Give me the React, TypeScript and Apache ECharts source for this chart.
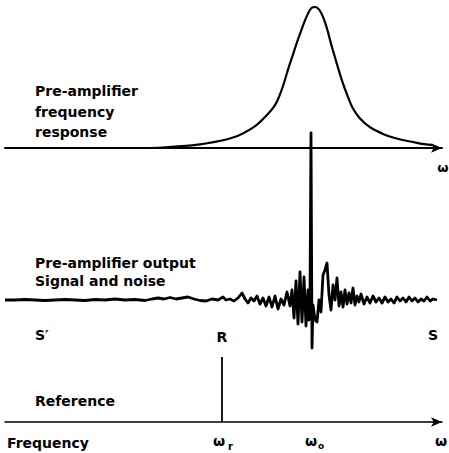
import React, { useEffect, useRef } from "react";
import * as echarts from "echarts";

// Frequency axis in arbitrary units (0 .. 437), omega_o ~ 306, omega_r ~ 217
const FREQ_MAX = 437;

// Pre-amplifier frequency response (normalised 0..1)
const responseFreq = [0, 145, 170, 195, 228, 248, 260, 272, 285, 295, 305, 310, 318, 328, 342, 355, 378, 412, 428];
const responseGain = [0, 0, 0.01, 0.026, 0.074, 0.145, 0.22, 0.33, 0.6, 0.81, 0.98, 1, 0.93, 0.69, 0.38, 0.21, 0.1, 0.036, 0.021];

// Pre-amplifier output: signal and noise (amplitude, arbitrary units)
const signalTrace: [number, number][] = [
  [0, 0], [10, 0], [20, 0.5], [30, 0], [40, -0.5], [50, 0], [60, 0.5], [70, 0], [80, -0.5], [90, 0.5],
  [100, 0], [110, 1], [120, 0], [130, 0.5], [140, -0.5], [147, 1], [153, 2], [159, 1], [165, 2.5], [171, 1],
  [177, 2], [183, 3], [189, 1], [195, -0.5], [201, -1], [207, 1], [213, 0], [218, 3], [221, 0], [225, 1],
  [229, -1], [233, 2], [237, 7], [240, 1], [243, -3], [246, 2], [249, -1], [252, 4], [255, -4], [258, 2],
  [261, -6], [264, 3], [267, -7], [270, 4], [273, -9], [276, 1], [279, -5], [282, 8], [285, -6], [287, 10],
  [289, -18], [291, 19], [293, -24], [295, 28], [297, -22], [299, 23], [301, -26], [303, 10], [304, -20], [305, 5],
  [306, 167], [307, -48], [308, -5], [310, -20], [312, -22], [314, 0], [316, -12], [318, 25], [320, 30], [322, 37],
  [324, 5], [326, -10], [328, 15], [330, 0], [332, 22], [334, -6], [336, 8], [338, -7], [340, 10], [342, -4],
  [344, 7], [346, -3], [348, 12], [350, -5], [352, 4], [354, -2], [356, 6], [359, -4], [362, 3], [365, -3],
  [368, 4], [371, -2], [374, 2], [377, -3], [380, 3], [383, -2], [386, 1], [389, -3], [392, 3], [395, -1],
  [398, 2], [401, -2], [404, 3], [407, -1], [410, 2], [413, -2], [416, 1], [419, -1], [422, 3], [425, -1],
  [428, 1], [432, 0],
];

// Reference line at omega_r
const referenceFreq = 217;
const referenceLevel = [0, 1];

const FONT = "DejaVu Sans";

export default function App() {
  const ref = useRef<HTMLDivElement>(null);
  useEffect(() => {
    if (!ref.current) return;
    const chart = echarts.init(ref.current, null, { renderer: "svg" });
    const axisCommon = {
      type: "value" as const,
      min: 0,
      max: FREQ_MAX,
      axisTick: { show: false },
      axisLabel: { show: false },
      splitLine: { show: false },
    };
    const txt = (text: string, x: number, y: number, align = "left", size = 14) => ({
      type: "text",
      x,
      y,
      style: {
        text,
        fill: "#000",
        font: `bold ${size}px "${FONT}"`,
        textAlign: align,
        textVerticalAlign: "middle",
      },
    });
    chart.setOption({
      animation: false,
      backgroundColor: "#fff",
      grid: [
        { left: 5, right: 7, top: 7, height: 141 },
        { left: 5, right: 7, top: 130, height: 230 },
        { left: 5, right: 7, top: 357, height: 65 },
      ],
      xAxis: [
        {
          ...axisCommon,
          gridIndex: 0,
          axisLine: { show: true, symbol: ["none", "arrow"], symbolSize: [7, 11], lineStyle: { color: "#000", width: 2 } },
        },
        { ...axisCommon, gridIndex: 1, show: false },
        {
          ...axisCommon,
          gridIndex: 2,
          axisLine: { show: true, symbol: ["none", "arrow"], symbolSize: [7, 11], lineStyle: { color: "#000", width: 1.6 } },
        },
      ],
      yAxis: [
        { type: "value", gridIndex: 0, min: 0, max: 1, show: false },
        { type: "value", gridIndex: 1, min: -60, max: 170, show: false },
        { type: "value", gridIndex: 2, min: 0, max: 1, show: false },
      ],
      series: [
        {
          type: "line",
          xAxisIndex: 0,
          yAxisIndex: 0,
          data: responseFreq.map((f, i) => [f, responseGain[i]]),
          smooth: 0.4,
          showSymbol: false,
          lineStyle: { color: "#000", width: 2.2 },
        },
        {
          type: "line",
          xAxisIndex: 1,
          yAxisIndex: 1,
          data: signalTrace,
          showSymbol: false,
          lineStyle: { color: "#000", width: 2.8, join: "round" },
        },
        {
          type: "line",
          xAxisIndex: 2,
          yAxisIndex: 2,
          data: referenceLevel.map((v) => [referenceFreq, v]),
          showSymbol: false,
          lineStyle: { color: "#000", width: 1.8 },
        },
      ],
      graphic: [
        txt("Pre-amplifier", 35, 91),
        txt("frequency", 35, 112),
        txt("response", 35, 132),
        txt("ω", 443, 167, "center", 13),
        txt("Pre-amplifier output", 35, 263),
        txt("Signal and noise", 35, 281),
        txt("S′", 35, 335),
        txt("R", 222, 337, "center"),
        txt("S", 433, 335, "center"),
        txt("Reference", 35, 401),
        txt("Frequency", 7, 443),
        txt("ω", 219, 441, "center"),
        txt("r", 228, 446, "left", 10),
        txt("ω", 311, 441, "center"),
        txt("o", 318, 446, "left", 9),
        txt("ω", 441, 441, "center"),
      ],
    });
    return () => chart.dispose();
  }, []);
  return <div ref={ref} style={{ width: 449, height: 453, position: "absolute", left: 0, top: 0 }} />;
}
